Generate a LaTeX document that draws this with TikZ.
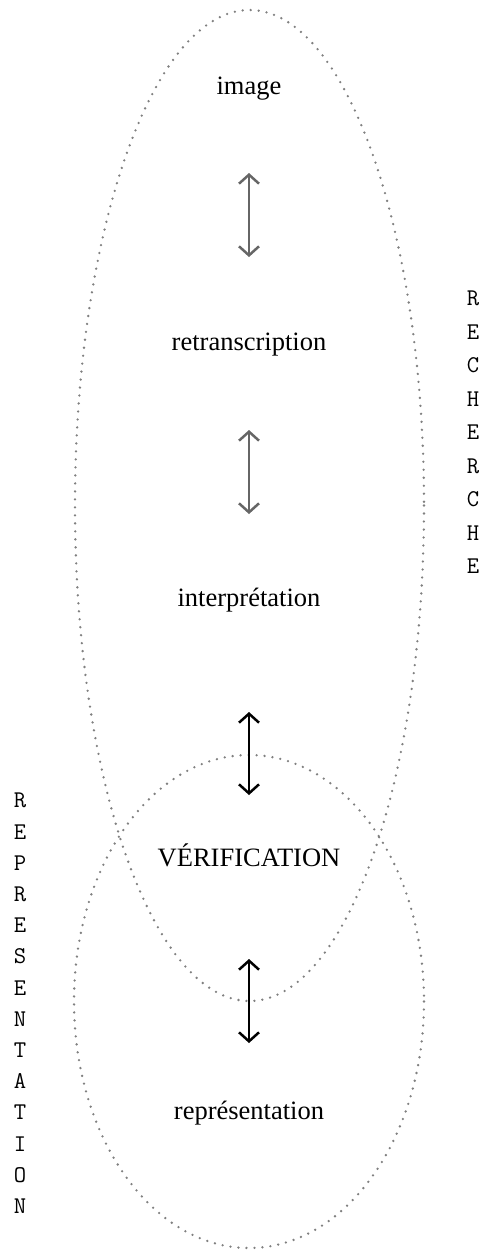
\documentclass[tikz,border=0pt]{standalone}
\usepackage{fontspec}
\setmainfont{Liberation Serif}
\usetikzlibrary{arrows.meta}
\definecolor{dotgray}{HTML}{808080}
\definecolor{arrgray}{HTML}{666666}
\begin{document}
\begin{tikzpicture}[x=1pt,y=-1pt,
  lbl/.style={font=\fontsize{26.5}{32}\selectfont, inner sep=0pt, anchor=base},
  vert/.style={font=\ttfamily\fontsize{24}{31.2}\selectfont, align=center, inner sep=0pt, anchor=north},
  zone/.style={draw=dotgray, line width=2.6pt, line cap=round, dash pattern=on 0pt off 8pt},
  link/.style={line width=2.5pt, {Straight Barb[length=9pt,width=20pt]}-{Straight Barb[length=9pt,width=20pt]}},
]
\useasboundingbox (0,0) rectangle (485,1251);
% zones
\draw[zone] (249.5,505.5) ellipse [x radius=174.5, y radius=495.5];
\draw[zone] (249,1001.5) ellipse [x radius=175, y radius=246.5];
% labels
\node[lbl] (img) at (249,94) {image};
\node[lbl] (retr) at (249,350) {retranscription};
\node[lbl] (interp) at (249,606) {interprétation};
\node[lbl] (verif) at (249,866) {VÉRIFICATION};
\node[lbl] (repr) at (249,1119) {représentation};
% vertical words
\node[vert, font=\ttfamily\fontsize{24}{33.5}\selectfont] (rech) at (473,291) {R\\E\\C\\H\\E\\R\\C\\H\\E};
\node[vert] (repv) at (20,793) {R\\E\\P\\R\\E\\S\\E\\N\\T\\A\\T\\I\\O\\N};
% arrow ends
\coordinate (a1t) at (249,173);
\coordinate (a1b) at (249,257);
\coordinate (a2t) at (249,430);
\coordinate (a2b) at (249,514);
\coordinate (a3t) at (249,712);
\coordinate (a3b) at (249,795);
\coordinate (a4t) at (249,959);
\coordinate (a4b) at (249,1043);
\draw[link, arrgray] (a1t) -- (a1b);
\draw[link, arrgray] (a2t) -- (a2b);
\draw[link, black] (a3t) -- (a3b);
\draw[link, black] (a4t) -- (a4b);
\end{tikzpicture}
\end{document}
